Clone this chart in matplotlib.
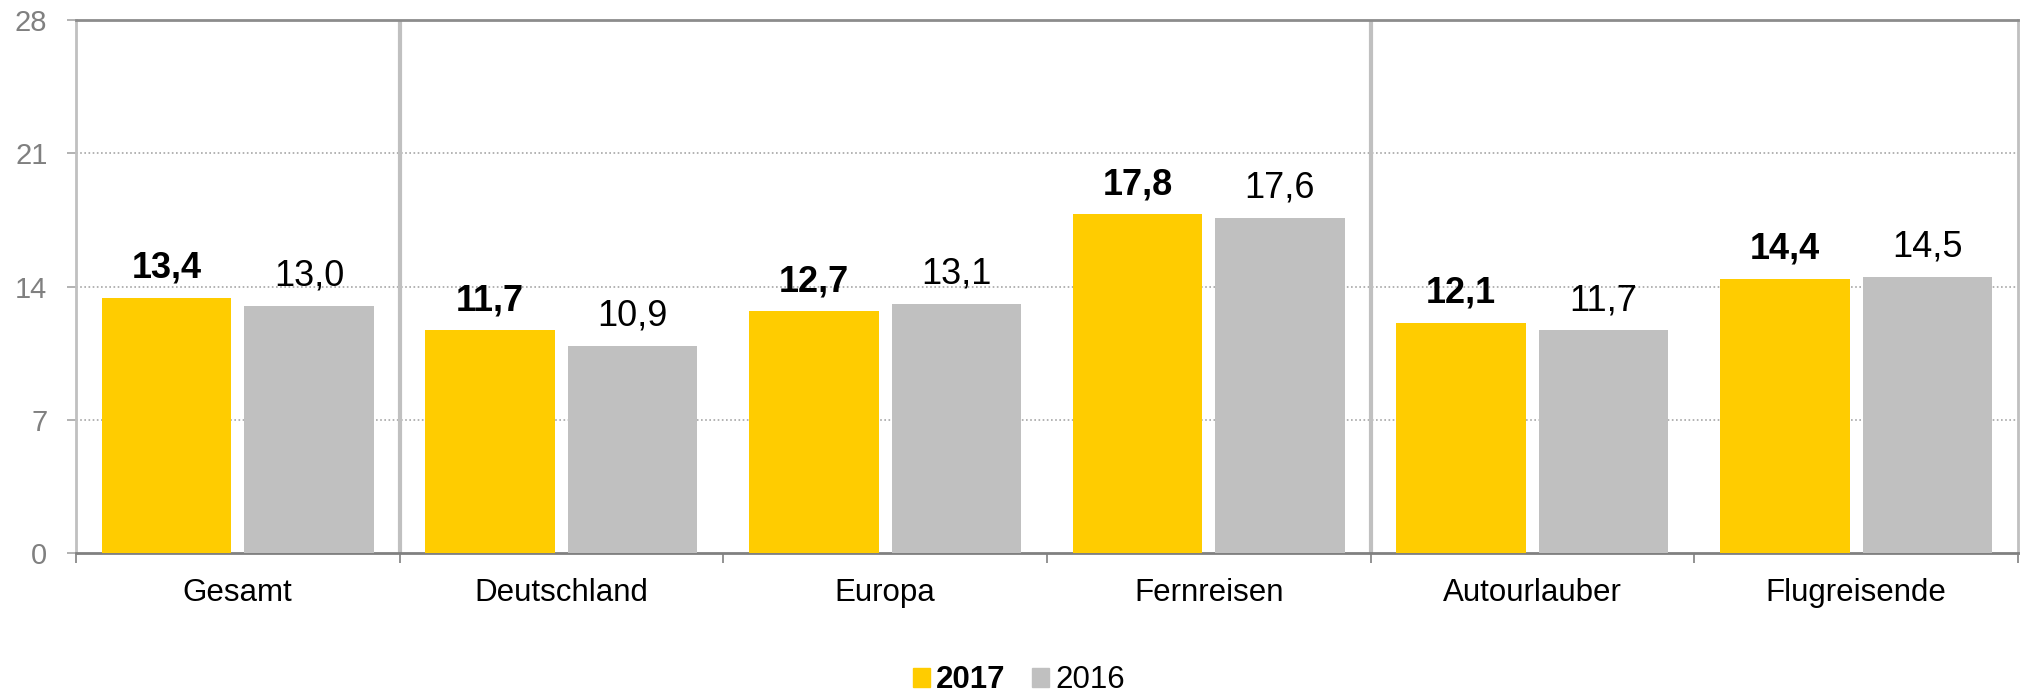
import matplotlib
matplotlib.use("Agg")
import matplotlib.pyplot as plt
import numpy as np
from matplotlib.patches import Patch

plt.rcParams["font.family"] = ["Liberation Sans", "DejaVu Sans"]

categories = ["Gesamt", "Deutschland", "Europa", "Fernreisen", "Autourlauber", "Flugreisende"]
values_2017 = [13.4, 11.7, 12.7, 17.8, 12.1, 14.4]
values_2016 = [13.0, 10.9, 13.1, 17.6, 11.7, 14.5]
y_ticks = [0, 7, 14, 21, 28]
group_breaks = [0, 3]  # separator after these category indices

yellow = "#FFCC00"
grey = "#C0C0C0"

fig = plt.figure(figsize=(20.24, 6.95), dpi=100)
ax = fig.add_axes([0.0375, 0.2043, 0.9595, 0.7669])

x = np.arange(len(categories))
w = 0.4
off = 0.22
b1 = ax.bar(x - off, values_2017, w, color=yellow, zorder=3)
b2 = ax.bar(x + off, values_2016, w, color=grey, zorder=3)

# value labels, 2017 bold
for bars, vals, weight in [(b1, values_2017, "bold"), (b2, values_2016, "normal")]:
    for rect, v in zip(bars, vals):
        ax.annotate(f"{v:.1f}".replace(".", ","), (rect.get_x() + rect.get_width() / 2, v),
                    xytext=(0, 14.5), textcoords="offset points", ha="center", va="baseline",
                    fontsize=26, fontweight=weight, color="black")

ax.set_xlim(-0.5, len(categories) - 0.5)
ax.set_ylim(0, 28)
ax.set_yticks(y_ticks)
ax.tick_params(axis="y", labelsize=21, labelcolor="#808080", color="#A6A6A6",
               length=6.5, width=1.2, pad=14)

ax.set_xticks(x)
ax.set_xticklabels(categories)
ax.tick_params(axis="x", which="major", length=0, labelsize=22.5, pad=18)
ax.set_xticks(np.arange(len(categories) + 1) - 0.5, minor=True)
ax.tick_params(axis="x", which="minor", length=7, width=1.2, color="#808080")

for t in y_ticks[1:-1]:
    ax.axhline(t, color="#A6A6A6", linestyle=(0, (1, 1.5)), linewidth=1.2, zorder=1)

for i in group_breaks:
    ax.axvline(i + 0.5, color=grey, linewidth=3, zorder=2)

for side in ["left", "right"]:
    ax.spines[side].set_color(grey)
    ax.spines[side].set_linewidth(2)
ax.spines["top"].set_color("#8C8C8C")
ax.spines["top"].set_linewidth(2)
ax.spines["bottom"].set_color("#808080")
ax.spines["bottom"].set_linewidth(2)

handles = [Patch(color=yellow), Patch(color=grey)]
leg = fig.legend(handles, ["2017", "2016"], loc="center", bbox_to_anchor=(0.5035, 0.021),
                 ncol=2, frameon=False, fontsize=22.5, handlelength=0.55, handleheight=0.55,
                 handletextpad=0.2, columnspacing=0.85)
leg.get_texts()[0].set_fontweight("bold")

fig.savefig("out.png", dpi=100)
